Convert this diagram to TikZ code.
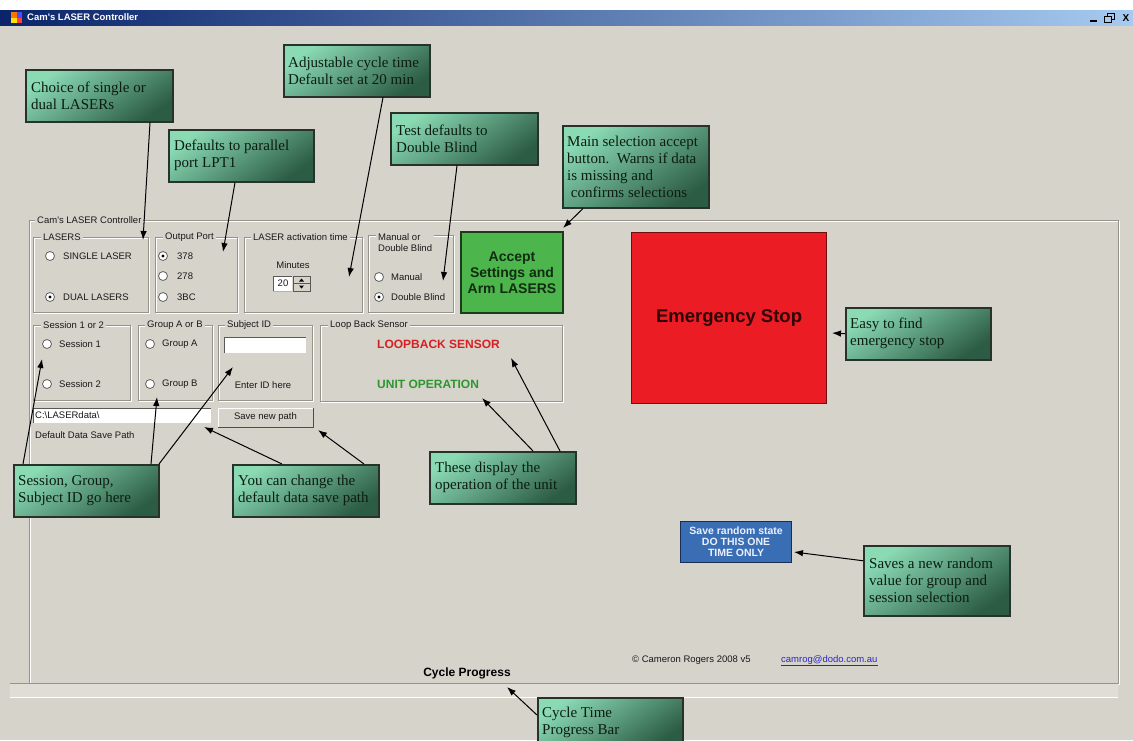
\documentclass[tikz,border=0pt]{standalone}
\usepackage{fontspec}
\setmainfont{Liberation Serif}
\newfontfamily\uifont{Liberation Sans}
\usetikzlibrary{arrows.meta}

\definecolor{bg}{RGB}{214,211,203}
\definecolor{gline}{RGB}{150,147,140}
\definecolor{callA}{RGB}{138,218,180}
\definecolor{callB}{RGB}{98,180,140}
\definecolor{callC}{RGB}{44,92,68}
\definecolor{callborder}{RGB}{38,50,42}
\definecolor{calltext}{RGB}{12,28,18}
\definecolor{tbdark}{RGB}{10,36,106}
\definecolor{tblight}{RGB}{166,202,240}
\definecolor{acceptgreen}{RGB}{76,182,76}
\definecolor{acceptborder}{RGB}{28,58,28}
\definecolor{accepttext}{RGB}{18,44,18}
\definecolor{estopred}{RGB}{236,28,36}
\definecolor{estopborder}{RGB}{110,14,14}
\definecolor{estoptext}{RGB}{45,6,6}
\definecolor{randblue}{RGB}{58,110,180}
\definecolor{randborder}{RGB}{25,45,85}
\definecolor{randtext}{RGB}{235,240,255}
\definecolor{loopred}{RGB}{214,32,36}
\definecolor{unitgreen}{RGB}{46,150,46}
\definecolor{linkblue}{RGB}{40,40,200}
\definecolor{barfill}{RGB}{224,221,215}

\tikzset{
  calloutbox/.style={draw=callborder, line width=1.5pt, top color=callA, middle color=callB, bottom color=callC, shading angle=35, anchor=north west, inner sep=0pt},
  callouttext/.style={anchor=west, align=left, inner sep=0pt, text=calltext, font=\fontsize{15}{17}\selectfont},
  arr/.style={-{Latex[length=9pt,width=6.5pt]}, line width=1pt, black},
  ui/.style={font=\uifont\fontsize{9.5}{11}\selectfont, inner sep=0pt, anchor=west, text=black!90},
  glabel/.style={ui, fill=bg, inner xsep=2pt, inner ysep=1pt},
  radio/.style={circle, minimum size=9pt, inner sep=0pt, fill=white, draw=gray!75!black, line width=0.8pt},
  gframe/.style={draw=gline, line width=0.9pt},
  gwhite/.style={draw=white, line width=0.9pt},
}
\newcommand\gbox[4]{\draw[gwhite] (#1+1,#2+1) rectangle (#3+1,#4+1); \draw[gframe] (#1,#2) rectangle (#3,#4);}

\begin{document}
\begin{tikzpicture}[x=1pt,y=-1pt]
\useasboundingbox (0,0) rectangle (1133,740);
\clip (0,0) rectangle (1133,740);
\fill[bg] (0,0) rectangle (1133,740);
\fill[white] (0,0) rectangle (1133,10);
% title bar
\shade[left color=tbdark, right color=tblight] (0,10) rectangle (1133,25);
\fill[orange!90!red] (11,12) rectangle (16.5,17.5);
\fill[blue!70] (16.5,12) rectangle (22,17.5);
\fill[yellow!85!orange] (11,17.5) rectangle (16.5,23);
\fill[red!75] (16.5,17.5) rectangle (22,23);
\node[anchor=west, inner sep=0pt, text=white, font=\uifont\bfseries\fontsize{9.5}{10}\selectfont] (title) at (27,17.5) {Cam's LASER Controller};
\draw[black, line width=1.6pt] (1090,21) -- (1097,21);
\draw[black, line width=0.8pt] (1107,13.5) rectangle (1114,19.5);
\fill[tblight] (1104,16.5) rectangle (1111,22.5);
\draw[black, line width=0.8pt] (1104,16.5) rectangle (1111,22.5);
\node[anchor=center, inner sep=0pt, font=\uifont\bfseries\fontsize{10}{10}\selectfont] (closebtn) at (1126,18) {X};

% main frame and progress bar
\gbox{29}{220}{1118}{683}
\node[glabel] (framelabel) at (35,220) {Cam's LASER Controller};
\fill[barfill] (10,683) rectangle (1118,697);
\draw[gline, line width=1pt] (10,683) -- (1118,683);
\draw[white, line width=1pt] (10,697) -- (1118,697);
\node[anchor=center, inner sep=0pt, font=\uifont\bfseries\fontsize{12}{12}\selectfont] (cycleprog) at (467,673) {Cycle Progress};

% LASERS group
\gbox{33}{237}{148}{312}
\node[glabel] (lasers) at (41,237) {LASERS};
\node[radio] (rsingle) at (50,256) {};
\node[ui] (tsingle) at (63,256) {SINGLE LASER};
\node[radio] (rdual) at (50,297) {};
\fill (rdual) circle (1.7);
\node[ui] (tdual) at (63,297) {DUAL LASERS};

% Output port
\gbox{155}{237}{237}{312}
\node[glabel] (outport) at (163,237) {Output Port};
\node[radio] (r378) at (163,256) {};
\fill (r378) circle (1.7);
\node[ui] (t378) at (177,256) {378};
\node[radio] (r278) at (163,276) {};
\node[ui] (t278) at (177,276) {278};
\node[radio] (r3bc) at (163,297) {};
\node[ui] (t3bc) at (177,297) {3BC};

% LASER activation time
\gbox{244}{237}{362}{312}
\node[glabel] (acttime) at (251,237) {LASER activation time};
\node[ui, anchor=center] (minutes) at (293,265) {Minutes};
\fill[white] (273,276) rectangle (292,291);
\draw[gray!70!black, line width=0.8pt] (273,291) -- (273,276) -- (292,276);
\draw[gray!60, line width=0.6pt] (273,291) -- (292,291);
\node[ui, anchor=center] (twenty) at (283,283.5) {20};
\fill[bg] (293,276) rectangle (310,291);
\draw[gray!70!black, line width=0.7pt] (293,276) rectangle (310,291);
\draw[gray!70!black, line width=0.7pt] (293,283.5) -- (310,283.5);
\fill[black] (299,281.5) -- (304,281.5) -- (301.5,278.5) -- cycle;
\fill[black] (299,285.5) -- (304,285.5) -- (301.5,288.5) -- cycle;

% Manual or Double Blind
\gbox{368}{235}{453}{312}
\node[glabel, align=left] (mdblabel) at (376,242.5) {Manual or\\Double Blind};
\node[radio] (rmanual) at (379,277) {};
\node[ui] (tmanual) at (391,277) {Manual};
\node[radio] (rdouble) at (379,297) {};
\fill (rdouble) circle (1.7);
\node[ui] (tdouble) at (391,297) {Double Blind};

% Accept button
\node[anchor=north west, fill=acceptgreen, draw=acceptborder, line width=2pt, minimum width=102pt, minimum height=81pt, inner sep=0pt, align=center, text=accepttext, font=\uifont\bfseries\fontsize{14}{16}\selectfont] (acceptbtn) at (460,231) {Accept\\Settings and\\Arm LASERS};

% Session
\gbox{33}{325}{130}{400}
\node[glabel] (sesslabel) at (41,325) {Session 1 or 2};
\node[radio] (rs1) at (47,344) {};
\node[ui] (ts1) at (59,344) {Session 1};
\node[radio] (rs2) at (47,384) {};
\node[ui] (ts2) at (59,384) {Session 2};

% Group
\gbox{138}{325}{212}{400}
\node[glabel] (grplabel) at (145,325) {Group A or B};
\node[radio] (rga) at (150,344) {};
\node[ui] (tga) at (162,344) {Group A};
\node[radio] (rgb) at (150,384) {};
\node[ui] (tgb) at (162,384) {Group B};

% Subject ID
\gbox{218}{325}{312}{400}
\node[glabel] (subjlabel) at (225,325) {Subject ID};
\fill[white] (224,337) rectangle (306,353);
\draw[gray!70!black, line width=1pt] (224,353) -- (224,337) -- (306,337);
\node[ui, anchor=center] (enterid) at (263,385) {Enter ID here};

% Loop back sensor
\gbox{320}{325}{562}{401}
\node[glabel] (looplabel) at (328,325) {Loop Back Sensor};
\node[ui, text=loopred, font=\uifont\bfseries\fontsize{12}{12}\selectfont] (loopback) at (377,344) {LOOPBACK SENSOR};
\node[ui, text=unitgreen, font=\uifont\bfseries\fontsize{12}{12}\selectfont] (unitop) at (377,384) {UNIT OPERATION};

% data path
\fill[white] (33,408) rectangle (211,423);
\draw[gray!70!black, line width=1pt] (33,423) -- (33,408) -- (211,408);
\node[ui] (pathtext) at (35,415.5) {C:\textbackslash LASERdata\textbackslash};
\node[ui] (pathlabel) at (35,435) {Default Data Save Path};
\draw[white, line width=1pt] (218,427) -- (218,408) -- (313,408);
\draw[gray!60!black, line width=1pt] (218,427) -- (313,427) -- (313,408);
\node[ui, anchor=center] (savepath) at (265.5,417.5) {Save new path};

% Emergency stop
\node[anchor=north west, fill=estopred, draw=estopborder, line width=1.2pt, minimum width=195pt, minimum height=171pt, inner sep=0pt, text=estoptext, font=\uifont\bfseries\fontsize{18.5}{20}\selectfont] (estopbtn) at (631,232) {Emergency Stop};

% Save random state
\node[anchor=north west, fill=randblue, draw=randborder, line width=1.2pt, minimum width=111pt, minimum height=41pt, inner sep=0pt, align=center, text=randtext, font=\uifont\bfseries\fontsize{10.5}{11}\selectfont] (randbtn) at (680,521) {Save random state\\DO THIS ONE\\TIME ONLY};

% copyright
\node[ui] (copyright) at (632,660) {\textcopyright\ Cameron Rogers 2008 v5};
\node[ui, text=linkblue] (email) at (781,660) {camrog@dodo.com.au};
\draw[linkblue, line width=0.6pt] ([yshift=-1pt]email.south west) -- ([yshift=-1pt]email.south east);

% callouts
\node[calloutbox, minimum width=147pt, minimum height=52pt] (cchoice) at (25,69) {};
\node[callouttext] (cchoicet) at ([xshift=6pt]cchoice.west) {Choice of single or\\dual LASERs};
\node[calloutbox, minimum width=146pt, minimum height=52pt] (ccycle) at (283,44) {};
\node[callouttext] (ccyclet) at ([xshift=5pt]ccycle.west) {Adjustable cycle time\\Default set at 20 min};
\node[calloutbox, minimum width=145pt, minimum height=52pt] (cport) at (168,129) {};
\node[callouttext] (cportt) at ([xshift=6pt]cport.west) {Defaults to parallel\\port LPT1};
\node[calloutbox, minimum width=147pt, minimum height=52pt] (cblind) at (390,112) {};
\node[callouttext] (cblindt) at ([xshift=6pt]cblind.west) {Test defaults to\\Double Blind};
\node[calloutbox, minimum width=146pt, minimum height=82pt] (caccept) at (562,125) {};
\node[callouttext] (cacceptt) at ([xshift=5pt]caccept.west) {Main selection accept\\button.\ \ Warns if data\\is missing and\\\ confirms selections};
\node[calloutbox, minimum width=145pt, minimum height=52pt] (cestop) at (845,307) {};
\node[callouttext] (cestopt) at ([xshift=5pt]cestop.west) {Easy to find\\emergency stop};
\node[calloutbox, minimum width=145pt, minimum height=52pt] (cids) at (13,464) {};
\node[callouttext] (cidst) at ([xshift=5pt]cids.west) {Session, Group,\\Subject ID go here};
\node[calloutbox, minimum width=146pt, minimum height=52pt] (cpath) at (232,464) {};
\node[callouttext] (cpatht) at ([xshift=6pt]cpath.west) {You can change the\\default data save path};
\node[calloutbox, minimum width=146pt, minimum height=52pt] (cdisplay) at (429,451) {};
\node[callouttext] (cdisplayt) at ([xshift=6pt]cdisplay.west) {These display the\\operation of the unit};
\node[calloutbox, minimum width=146pt, minimum height=70pt] (crandom) at (863,545) {};
\node[callouttext] (crandomt) at ([xshift=6pt]crandom.west) {Saves a new random\\value for group and\\session selection};
\node[calloutbox, minimum width=145pt, minimum height=50pt] (cprog) at (537,697) {};
\node[callouttext] (cprogt) at ([xshift=5pt]cprog.west) {Cycle Time\\Progress Bar};

% arrow tips
\coordinate (tchoice) at (143,240);
\coordinate (tcycle) at (349,277);
\coordinate (tport) at (223,252);
\coordinate (tblind) at (443,281);
\coordinate (taccept) at (563,228);
\coordinate (testop) at (832,333);
\coordinate (tsess) at (42,359);
\coordinate (tgroup) at (157,397);
\coordinate (tsubj) at (233,367);
\coordinate (tpathbox) at (204,427);
\coordinate (tpathbtn) at (318,430);
\coordinate (tunit) at (482,398);
\coordinate (tloop) at (511,358);
\coordinate (trandom) at (794,552);
\coordinate (tprog) at (507,687);

% arrows
\draw[arr] ([xshift=125pt]cchoice.south west) -- (tchoice);
\draw[arr] ([xshift=100pt]ccycle.south west) -- (tcycle);
\draw[arr] ([xshift=67pt]cport.south west) -- (tport);
\draw[arr] ([xshift=67pt]cblind.south west) -- (tblind);
\draw[arr] ([xshift=21pt]caccept.south west) -- (taccept);
\draw[arr] (cestop.west) -- (testop);
\draw[arr] ([xshift=10pt]cids.north west) -- (tsess);
\draw[arr] ([xshift=138pt]cids.north west) -- (tgroup);
\draw[arr] ([xshift=146pt]cids.north west) -- (tsubj);
\draw[arr] ([xshift=50pt]cpath.north west) -- (tpathbox);
\draw[arr] ([xshift=132pt]cpath.north west) -- (tpathbtn);
\draw[arr] ([xshift=104pt]cdisplay.north west) -- (tunit);
\draw[arr] ([xshift=131pt]cdisplay.north west) -- (tloop);
\draw[arr] ([yshift=20pt]crandom.west) -- (trandom);
\draw[arr] ([yshift=-18pt]cprog.north west) -- (tprog);
\end{tikzpicture}
\end{document}
